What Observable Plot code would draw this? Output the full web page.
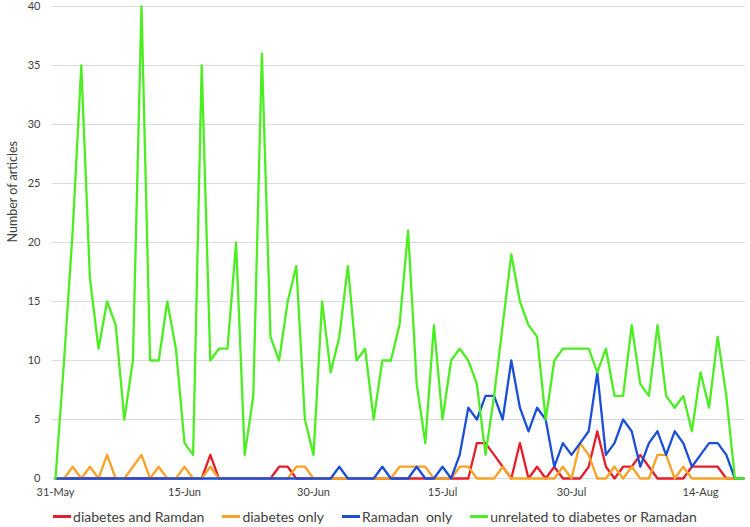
<!DOCTYPE html>
<html><head><meta charset="utf-8">
<script src="https://cdn.jsdelivr.net/npm/d3@7"></script>
<script src="https://cdn.jsdelivr.net/npm/@observablehq/plot@0.6"></script>
<style>
body{margin:0;background:#fff;font-family:Lato,"Open Sans",sans-serif;}
#chart{width:750px;}
#chart svg{display:block;}
.legend{display:flex;justify-content:center;align-items:center;gap:18px;height:22px;font-family:Lato,sans-serif;font-size:14px;color:#404040;white-space:pre;}
.legend .item{display:flex;align-items:center;}
.legend .sw{display:inline-block;width:18px;height:3px;margin-right:2px;}
</style></head><body><div id="chart"></div><script>
const startDate = "2014-05-31";
const seriesNames = ["diabetes and Ramdan", "diabetes only", "Ramadan  only", "unrelated to diabetes or Ramadan"];
const seriesColors = ["#E41E2B", "#F7A328", "#1C4FD8", "#4CEE22"];
const diabetesAndRamadan = [
  0,0,0,0,0,0,0,0,0,0, 0,0,0,0,0,0,0,0,2,0, 0,0,0,0,0,0,1,1,0,0, 0,0,0,0,0,0,0,0,0,0,
  0,0,0,0,0,0,0,0,0,3, 3,2,1,0,3,0,1,0,1,0, 0,0,1,4,1,0,1,1,2,1, 0,0,0,0,1,1,1,1,0,0, 0];
const diabetesOnly = [
  0,0,1,0,1,0,2,0,0,1, 2,0,1,0,0,1,0,0,1,0, 0,0,0,0,0,0,0,0,1,1, 0,0,0,0,0,0,0,0,0,0,
  1,1,1,1,0,0,0,1,1,0, 0,0,1,0,0,0,0,0,0,1, 0,3,2,0,0,1,0,1,0,0, 2,2,0,1,0,0,0,0,0,0, 0];
const ramadanOnly = [
  0,0,0,0,0,0,0,0,0,0, 0,0,0,0,0,0,0,0,0,0, 0,0,0,0,0,0,0,0,0,0, 0,0,0,1,0,0,0,0,1,0,
  0,0,1,0,0,1,0,2,6,5, 7,7,5,10,6,4,6,5,1,3, 2,3,4,9,2,3,5,4,1,3, 4,2,4,3,1,2,3,3,2,0, 0];
const unrelated = [
  0,10,21,35,17,11,15,13,5,10, 40,10,10,15,11,3,2,35,10,11, 11,20,2,7,36,12,10,15,18,5,
  2,15,9,12,18,10,11,5,10,10, 13,21,8,3,13,5,10,11,10,8, 2,7,13,19,15,13,12,5,10,11,
  11,11,11,9,11,7,7,13,8,7, 13,7,6,7,4,9,6,12,7,0, 0];
const xTickDates = ["2014-05-31", "2014-06-15", "2014-06-30", "2014-07-15", "2014-07-30", "2014-08-14"];
const xTickLabels = ["31-May", "15-Jun", "30-Jun", "15-Jul", "30-Jul", "14-Aug"];
const yTicks = [0, 5, 10, 15, 20, 25, 30, 35, 40];
const yTitle = "Number of articles";

const start = new Date(startDate + "T00:00:00Z");
const allSeries = [diabetesAndRamadan, diabetesOnly, ramadanOnly, unrelated];
const rows = [];
allSeries.forEach((vals, s) => {
  vals.forEach((v, i) => rows.push({date: d3.utcDay.offset(start, i), value: v, series: seriesNames[s]}));
});
const tickDates = xTickDates.map(d => new Date(d + "T00:00:00Z"));
const dates = unrelated.map((_, i) => d3.utcDay.offset(start, i));

const chart = Plot.plot({
  width: 750,
  height: 505,
  marginLeft: 52,
  marginRight: 5,
  marginTop: 6,
  marginBottom: 27,
  insetLeft: 3,
  insetRight: 2,
  style: {fontFamily: "Lato, sans-serif", fontSize: "11px", color: "#404040", background: "#fff"},
  x: {type: "utc", domain: [dates[0], dates[dates.length - 1]]},
  y: {domain: [0, 40]},
  color: {domain: seriesNames, range: seriesColors},
  marks: [
    Plot.ruleY(yTicks, {stroke: "#d9dcdf", strokeWidth: 1}),
    Plot.axisX({ticks: tickDates, tickFormat: (d, i) => xTickLabels[i], tickSize: 0, tickPadding: 10, label: null, fill: "#404040"}),
    Plot.axisY({ticks: yTicks, tickSize: 0, tickPadding: 12, label: null, fill: "#404040"}),
    Plot.text([yTitle], {frameAnchor: "left", rotate: -90, dx: -40, fontSize: 12.5, fill: "#404040"}),
    Plot.line(rows, {x: "date", y: "value", z: "series", stroke: "series", strokeWidth: 2.3, strokeLinejoin: "round"})
  ]
});
document.getElementById("chart").appendChild(chart);

const legend = document.createElement("div");
legend.className = "legend";
seriesNames.forEach((n, i) => {
  const it = document.createElement("span");
  it.className = "item";
  const sw = document.createElement("span");
  sw.className = "sw";
  sw.style.background = seriesColors[i];
  const t = document.createElement("span");
  t.textContent = n;
  it.appendChild(sw); it.appendChild(t);
  legend.appendChild(it);
});
document.getElementById("chart").appendChild(legend);
</script></body></html>
